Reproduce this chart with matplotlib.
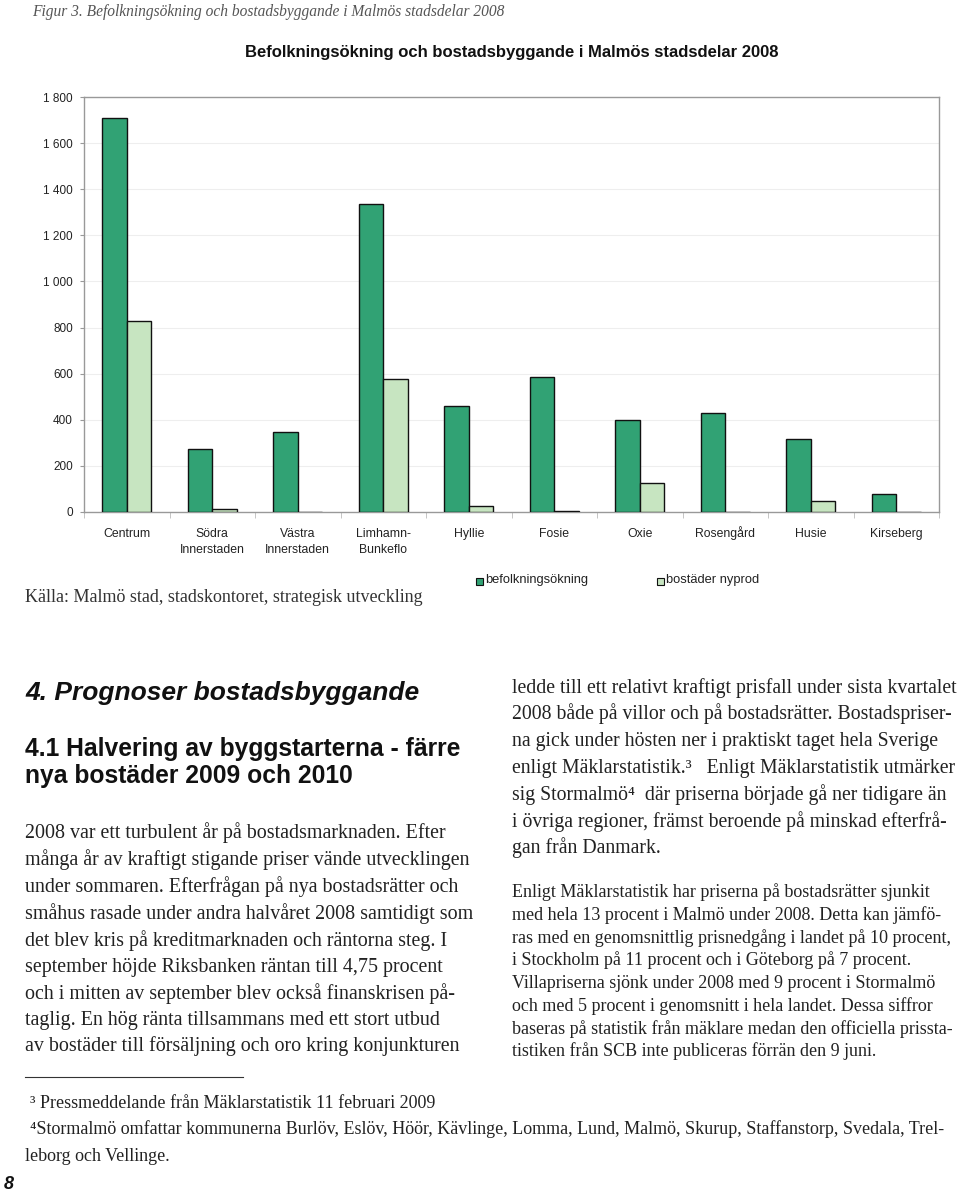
import matplotlib
matplotlib.use("Agg")
import matplotlib.pyplot as plt
import numpy as np
from matplotlib.patches import Rectangle
from matplotlib.lines import Line2D

# ---- data ----
categories = ["Centrum", "Södra\nInnerstaden", "Västra\nInnerstaden", "Limhamn-\nBunkeflo",
              "Hyllie", "Fosie", "Oxie", "Rosengård", "Husie", "Kirseberg"]
befolkningsokning = [1710, 275, 345, 1335, 460, 585, 400, 430, 315, 78]
bostader_nyprod = [830, 12, 0, 575, 25, 5, 125, 0, 48, 2]
yticks = [0, 200, 400, 600, 800, 1000, 1200, 1400, 1600, 1800]
ytick_labels = ["0", "200", "400", "600", "800", "1 000", "1 200", "1 400", "1 600", "1 800"]
series_names = ["befolkningsökning", "bostäder nyprod"]

DARK = "#31A274"
LIGHT = "#C7E5C1"
W, H = 960, 1195

fig = plt.figure(figsize=(W / 100, H / 100), dpi=100)
fig.patch.set_facecolor("white")

def fx(px):
    return px / W

def fy(py):
    return 1 - py / H

SERIF = ["Liberation Serif", "DejaVu Serif"]
SANS = ["Liberation Sans", "DejaVu Sans"]

def line(xpx, ycenter, s, size, family=SERIF, **kw):
    # place text by baseline so accented capitals don't shift lines
    base = ycenter + 0.235 * size * 100 / 72
    kw.setdefault("color", "#222222")
    fig.text(fx(xpx), fy(base), s, family=family, fontsize=size, va="baseline", ha="left", **kw)

ax_top, ax_bot = 97, 512
ax = fig.add_axes([fx(84), fy(ax_bot), fx(939) - fx(84), fy(ax_top) - fy(ax_bot)])
x = np.arange(len(categories))
bw = 0.287
ax.bar(x - bw / 2, befolkningsokning, bw, color=DARK, edgecolor="#111111", linewidth=1.0, zorder=3)
ax.bar(x + bw / 2, bostader_nyprod, bw, color=LIGHT, edgecolor="#111111", linewidth=1.0, zorder=3)
ax.set_xlim(-0.5, len(categories) - 0.5)
ax.set_ylim(0, 1800)
ax.set_yticks(yticks)
ax.set_yticklabels(ytick_labels, fontsize=8.5, family=SANS, color="#222222")
ax.set_xticks(x)
ax.set_xticklabels([])
ax.tick_params(axis="x", length=0)
ax.tick_params(axis="y", length=3, color="#999999", pad=5)
ax.set_xticks(np.arange(-0.5, len(categories), 1), minor=True)
ax.tick_params(axis="x", which="minor", length=4, color="#bbbbbb")
ax.yaxis.grid(True, color="#eeeeee", linewidth=0.8, zorder=0)
for s in ax.spines.values():
    s.set_color("#999999")
    s.set_linewidth(1.0)

# category labels, one baseline per line
trans = ax.get_xaxis_transform()
ax_h = ax_bot - ax_top
for xi, cat in zip(x, categories):
    for i, part in enumerate(cat.split("\n")):
        base_px = 537 + i * 16.5
        ax.text(xi, -(base_px - ax_bot) / ax_h, part, transform=trans, family=SANS,
                fontsize=8.8, color="#222222", ha="center", va="baseline", clip_on=False)

# ---- texts ----
line(32, 12, "Figur 3. Befolkningsökning och bostadsbyggande i Malmös stadsdelar 2008",
     11.2, style="italic", color="#555555")
fig.text(fx(512), fy(52), "Befolkningsökning och bostadsbyggande i Malmös stadsdelar 2008",
         family=SANS, weight="bold", fontsize=12, color="#111111", va="center", ha="center")
line(25, 598, "Källa: Malmö stad, stadskontoret, strategisk utveckling", 13, color="#333333")

# legend
leg_x = [476, 657]
leg_colors = [DARK, LIGHT]
for lx, name, c in zip(leg_x, series_names, leg_colors):
    fig.patches.append(Rectangle((fx(lx), fy(585)), fx(7), 7 / H, transform=fig.transFigure,
                                 facecolor=c, edgecolor="#111111", linewidth=0.8))
    line(lx + 9, 580, name, 9.3, family=SANS)

line(25, 694, "4. Prognoser bostadsbyggande", 19, family=SANS, weight="bold",
     style="italic", color="#111111")
line(25, 750, "4.1 Halvering av byggstarterna - färre", 17.7, family=SANS, weight="bold",
     color="#111111")
line(25, 777, "nya bostäder 2009 och 2010", 17.7, family=SANS, weight="bold", color="#111111")

left_lines = [
    "2008 var ett turbulent år på bostadsmarknaden. Efter",
    "många år av kraftigt stigande priser vände utvecklingen",
    "under sommaren. Efterfrågan på nya bostadsrätter och",
    "småhus rasade under andra halvåret 2008 samtidigt som",
    "det blev kris på kreditmarknaden och räntorna steg. I",
    "september höjde Riksbanken räntan till 4,75 procent",
    "och i mitten av september blev också finanskrisen på-",
    "taglig. En hög ränta tillsammans med ett stort utbud",
    "av bostäder till försäljning och oro kring konjunkturen",
]
left_y = [833, 860, 887, 914, 941, 967, 994, 1020, 1046]
for t, yy in zip(left_lines, left_y):
    line(25, yy, t, 14.4)

right_lines1 = [
    "ledde till ett relativt kraftigt prisfall under sista kvartalet",
    "2008 både på villor och på bostadsrätter. Bostadspriser-",
    "na gick under hösten ner i praktiskt taget hela Sverige",
    "enligt Mäklarstatistik.\u00b3   Enligt Mäklarstatistik utmärker",
    "sig Stormalmö\u2074  där priserna började gå ner tidigare än",
    "i övriga regioner, främst beroende på minskad efterfrå-",
    "gan från Danmark.",
]
right_y1 = [688, 714, 741, 768, 795, 822, 848]
for t, yy in zip(right_lines1, right_y1):
    line(512, yy, t, 14.2)

right_lines2 = [
    "Enligt Mäklarstatistik har priserna på bostadsrätter sjunkit",
    "med hela 13 procent i Malmö under 2008. Detta kan jämfö-",
    "ras med en genomsnittlig prisnedgång i landet på 10 procent,",
    "i Stockholm på 11 procent och i Göteborg på 7 procent.",
    "Villapriserna sjönk under 2008 med 9 procent i Stormalmö",
    "och med 5 procent i genomsnitt i hela landet. Dessa siffror",
    "baseras på statistik från mäklare medan den officiella prissta-",
    "tistiken från SCB inte publiceras förrän den 9 juni.",
]
right_y2 = [893, 916, 939, 961, 984, 1007, 1030, 1052]
for t, yy in zip(right_lines2, right_y2):
    line(512, yy, t, 13.0)

fig.lines.append(Line2D([fx(25), fx(243)], [fy(1077), fy(1077)], transform=fig.transFigure,
                        color="#333333", linewidth=0.8))
line(30, 1104, "\u00b3 Pressmeddelande från Mäklarstatistik 11 februari 2009", 13.0)
line(30, 1130, "\u2074Stormalmö omfattar kommunerna Burlöv, Eslöv, Höör, Kävlinge, Lomma, Lund, Malmö, Skurup, Staffanstorp, Svedala, Trel-", 13.0)
line(25, 1157, "leborg och Vellinge.", 13.0)
line(4, 1185, "8", 13, family=SANS, weight="bold", style="italic", color="#111111")

fig.savefig("out.png", dpi=100, facecolor="white")
